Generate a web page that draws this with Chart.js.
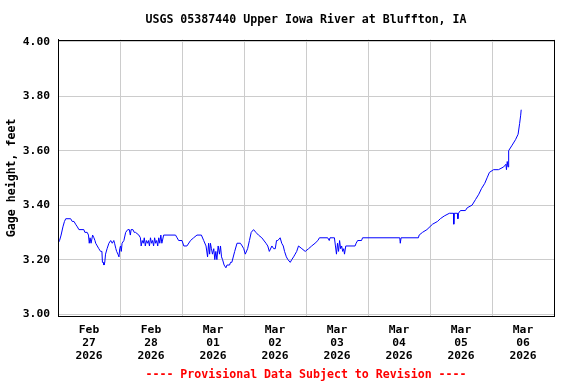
<!DOCTYPE html>
<html>
<head>
<meta charset="utf-8">
<script src="https://cdn.jsdelivr.net/npm/chart.js@4/dist/chart.umd.min.js"></script>
<style>
  html, body { margin: 0; padding: 0; background: #ffffff; }
  #wrap { width: 576px; height: 384px; }
</style>
</head>
<body>
<div id="wrap"><canvas id="c" width="576" height="384"></canvas></div>
<script>
// Hours since 2026-02-27 00:00 (local station time)
const hours = [
  0.0,0.6,1.2,1.9,2.5,3.0,4.9,5.5,6.2,6.8,7.5,8.1,10.0,10.4,11.3,11.8,12.1,12.4,12.8,13.4,
  13.9,14.3,14.6,15.2,15.8,16.5,17.0,17.2,17.5,17.8,18.1,18.4,19.0,19.7,20.4,21.0,21.6,21.9,22.4,22.7,
  23.2,23.6,23.9,24.2,24.5,24.8,25.5,26.2,27.0,27.6,28.0,28.3,29.0,29.5,30.0,31.3,31.9,32.2,32.6,33.0,
  33.4,33.8,34.2,34.6,35.0,35.4,35.8,36.2,36.6,37.0,37.4,37.8,38.2,38.6,39.0,39.4,39.8,40.2,40.9,45.5,
  46.1,46.7,48.0,48.7,49.9,51.3,52.5,53.8,55.5,56.4,57.3,57.9,58.3,58.7,59.0,59.4,59.8,60.3,60.7,61.1,
  61.5,62.0,62.5,62.9,63.3,63.7,64.3,65.0,65.4,65.8,66.4,66.8,67.3,68.4,69.3,70.6,71.3,71.9,72.5,73.4,
  74.1,74.8,75.7,76.6,77.6,78.9,80.5,81.2,81.8,82.8,83.5,84.1,84.6,85.1,86.0,86.6,87.2,87.7,88.4,89.0,
  89.9,90.5,91.2,91.8,92.4,93.1,94.4,95.7,97.0,98.2,99.5,100.6,101.2,104.4,105.0,105.3,107.0,107.4,107.8,108.2,
  108.6,109.0,109.4,109.8,110.2,110.6,110.9,111.4,115.0,115.4,116.0,117.5,117.9,132.3,132.5,132.8,139.5,139.8,141.1,142.8,
  145.0,146.9,148.0,149.5,151.5,153.1,153.2,153.4,154.6,154.8,155.0,155.8,157.7,158.4,160.3,161.6,162.9,163.9,165.2,166.1,
  167.0,168.6,170.5,172.5,173.4,173.6,173.9,174.2,174.4,174.5,175.8,177.1,178.1,178.7,179.1,179.3
];
// Gage height, feet
const gage = [
  3.26,3.27,3.29,3.32,3.34,3.35,3.35,3.34,3.34,3.33,3.32,3.31,3.31,3.30,3.30,3.29,3.26,3.28,3.26,3.29,
  3.28,3.27,3.26,3.25,3.24,3.23,3.23,3.19,3.19,3.18,3.19,3.22,3.24,3.26,3.27,3.26,3.27,3.26,3.24,3.23,
  3.22,3.21,3.24,3.25,3.23,3.26,3.27,3.30,3.31,3.31,3.29,3.31,3.31,3.30,3.30,3.29,3.28,3.25,3.27,3.26,
  3.28,3.25,3.27,3.26,3.27,3.25,3.28,3.26,3.27,3.25,3.28,3.26,3.27,3.25,3.28,3.26,3.29,3.26,3.29,3.29,
  3.28,3.27,3.27,3.25,3.25,3.27,3.28,3.29,3.29,3.27,3.25,3.21,3.26,3.22,3.26,3.24,3.22,3.24,3.20,3.23,
  3.20,3.25,3.22,3.25,3.21,3.20,3.18,3.17,3.18,3.18,3.18,3.19,3.19,3.23,3.26,3.26,3.25,3.24,3.22,3.24,
  3.27,3.30,3.31,3.30,3.29,3.28,3.26,3.25,3.23,3.25,3.24,3.24,3.27,3.27,3.28,3.26,3.25,3.23,3.21,3.20,
  3.19,3.20,3.21,3.22,3.23,3.25,3.24,3.23,3.24,3.25,3.26,3.27,3.28,3.28,3.27,3.28,3.28,3.25,3.22,3.26,
  3.23,3.27,3.24,3.25,3.23,3.24,3.22,3.25,3.25,3.26,3.27,3.27,3.28,3.28,3.26,3.28,3.28,3.29,3.30,3.31,
  3.33,3.34,3.35,3.36,3.37,3.37,3.33,3.37,3.37,3.35,3.37,3.38,3.38,3.39,3.40,3.42,3.44,3.46,3.48,3.50,
  3.52,3.53,3.53,3.54,3.55,3.53,3.56,3.54,3.58,3.60,3.62,3.64,3.66,3.70,3.73,3.75
];
// X tick labels (centered at noon of each day)
const tickMonths = ["Feb","Feb","Mar","Mar","Mar","Mar","Mar","Mar"];
const tickDays   = ["27","28","01","02","03","04","05","06"];
const tickYears  = ["2026","2026","2026","2026","2026","2026","2026","2026"];
const yTicks = [3.0, 3.2, 3.4, 3.6, 3.8, 4.0];

const titleText = "USGS 05387440 Upper Iowa River at Bluffton, IA";
const footerText = "---- Provisional Data Subject to Revision ----";
const yTitleText = "Gage height, feet";

const MONO = "'DejaVu Sans Mono', 'Liberation Mono', monospace";

const points = hours.map((h, i) => ({ x: h, y: gage[i] }));
const xLabels = tickMonths.map((m, i) => [m, tickDays[i], tickYears[i]]);
const xTickValues = tickMonths.map((m, i) => 12 + 24 * i);

const framePlugin = {
  id: 'frame',
  afterDraw(chart) {
    const a = chart.chartArea;
    const ctx = chart.ctx;
    ctx.save();
    ctx.strokeStyle = '#000000';
    ctx.lineWidth = 1;
    ctx.strokeRect(Math.round(a.left) + 0.5, Math.round(a.top) + 0.5,
                   Math.round(a.right - a.left), Math.round(a.bottom - a.top));
    ctx.restore();
  }
};

new Chart(document.getElementById('c'), {
  type: 'line',
  data: {
    datasets: [{
      data: points,
      borderColor: '#0000ff',
      borderWidth: 1,
      pointRadius: 0,
      tension: 0,
      fill: false
    }]
  },
  options: {
    responsive: false,
    animation: false,
    events: [],
    layout: { padding: { left: 0, right: 22, top: 0, bottom: 0 } },
    plugins: {
      legend: { display: false },
      tooltip: { enabled: false },
      title: {
        display: true,
        text: titleText,
        fullSize: false,
        color: '#000000',
        font: { family: MONO, size: 11.6, weight: 'bold', lineHeight: 1.2 },
        padding: { top: 13.5, bottom: 12.2 }
      },
      subtitle: {
        display: true,
        position: 'bottom',
        text: footerText,
        fullSize: false,
        color: '#ff0000',
        font: { family: MONO, size: 11.6, weight: 'bold', lineHeight: 1.2 },
        padding: { top: 4, bottom: 2 }
      }
    },
    scales: {
      x: {
        type: 'linear',
        min: 0,
        max: 192,
        afterBuildTicks: (s) => { s.ticks = xTickValues.map(v => ({ value: v })); },
        afterFit: (s) => { s.height = 48; },
        grid: { offset: true, color: '#cccccc', lineWidth: 1, drawTicks: false },
        border: { display: true, color: '#000000', width: 1 },
        ticks: {
          autoSkip: false,
          maxRotation: 0,
          minRotation: 0,
          padding: 7.5,
          color: '#000000',
          font: { family: MONO, size: 11.3, weight: 'bold', lineHeight: 1.16 },
          callback: (v, i) => xLabels[i]
        }
      },
      y: {
        type: 'linear',
        min: 2.9927,
        max: 4.0073,
        afterBuildTicks: (s) => { s.ticks = yTicks.map(v => ({ value: v })); },
        afterFit: (s) => { s.width = 58; },
        grid: { color: '#cccccc', lineWidth: 1, drawTicks: false },
        border: { display: true, color: '#000000', width: 1 },
        ticks: {
          padding: 8,
          color: '#000000',
          font: { family: MONO, size: 11.3, weight: 'bold' },
          callback: (v) => Number(v).toFixed(2)
        },
        title: {
          display: true,
          text: yTitleText,
          color: '#000000',
          font: { family: MONO, size: 11.6, weight: 'bold', lineHeight: 1.2 },
          padding: { top: 5, bottom: 0 }
        }
      }
    }
  },
  plugins: [framePlugin]
});
</script>
</body>
</html>
